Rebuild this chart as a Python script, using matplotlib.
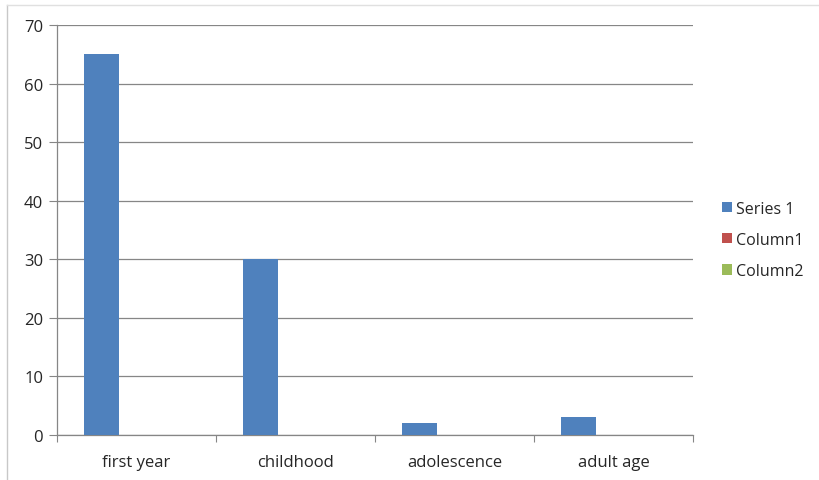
import numpy as np
import matplotlib.pyplot as plt
from matplotlib.lines import Line2D
from matplotlib.patches import Patch

categories = ['first year', 'childhood', 'adolescence', 'adult age']
series_names = ['Series 1', 'Column1', 'Column2']
series_1 = [65, 30, 2, 3]
column_1 = [0, 0, 0, 0]
column_2 = [0, 0, 0, 0]
colors = ['#4f81bd', '#c0504d', '#9bbb59']

plt.rcParams['font.family'] = ['Open Sans', 'DejaVu Sans']

fig = plt.figure(figsize=(8.19, 4.81), dpi=100)
ax = fig.add_axes([57 / 819, 45 / 481, 636 / 819, 410 / 481])

x = np.arange(len(categories))
w = 1 / 4.5
for i, (vals, c) in enumerate(zip([series_1, column_1, column_2], colors)):
    ax.bar(x + (i - 1) * w, vals, width=w, color=c, zorder=3)

ax.set_xlim(-0.5, len(categories) - 0.5)
ax.set_ylim(0, 70)
ax.set_yticks(range(0, 71, 10))
ax.yaxis.grid(True, color='#868686', linewidth=0.9, zorder=0)

# category ticks at group boundaries, labels at centres
ax.set_xticks(np.arange(-0.5, len(categories), 1.0))
ax.set_xticklabels([])
ax.set_xticks(x, minor=True)
ax.set_xticklabels(categories, minor=True)
ax.tick_params(axis='x', which='major', length=5, color='#868686', direction='out')
ax.tick_params(axis='x', which='minor', length=0, pad=14, labelsize=12, labelcolor='#262626')
ax.tick_params(axis='y', length=6, color='#868686', pad=4, labelsize=12, labelcolor='#262626')

for s in ['top', 'right']:
    ax.spines[s].set_visible(False)
for s in ['left', 'bottom']:
    ax.spines[s].set_color('#868686')
    ax.spines[s].set_linewidth(0.9)

handles = [Patch(facecolor=c, edgecolor='none') for c in colors]
fig.legend(handles, series_names, loc='center left', bbox_to_anchor=(722 / 819, 1 - 241 / 481),
           frameon=False, fontsize=11.5, handlelength=0.6, handleheight=0.6,
           handletextpad=0.3, labelspacing=0.95, labelcolor='#262626',
           borderpad=0, borderaxespad=0)

# outer chart frame (left and top edges visible)
fig.add_artist(Line2D([7 / 819, 7 / 819], [0, 1 - 6 / 481], color='#c8c8c8', lw=1))
fig.add_artist(Line2D([7 / 819, 1], [1 - 6 / 481, 1 - 6 / 481], color='#e0e0e0', lw=1))

fig.savefig('out.png', dpi=100)
